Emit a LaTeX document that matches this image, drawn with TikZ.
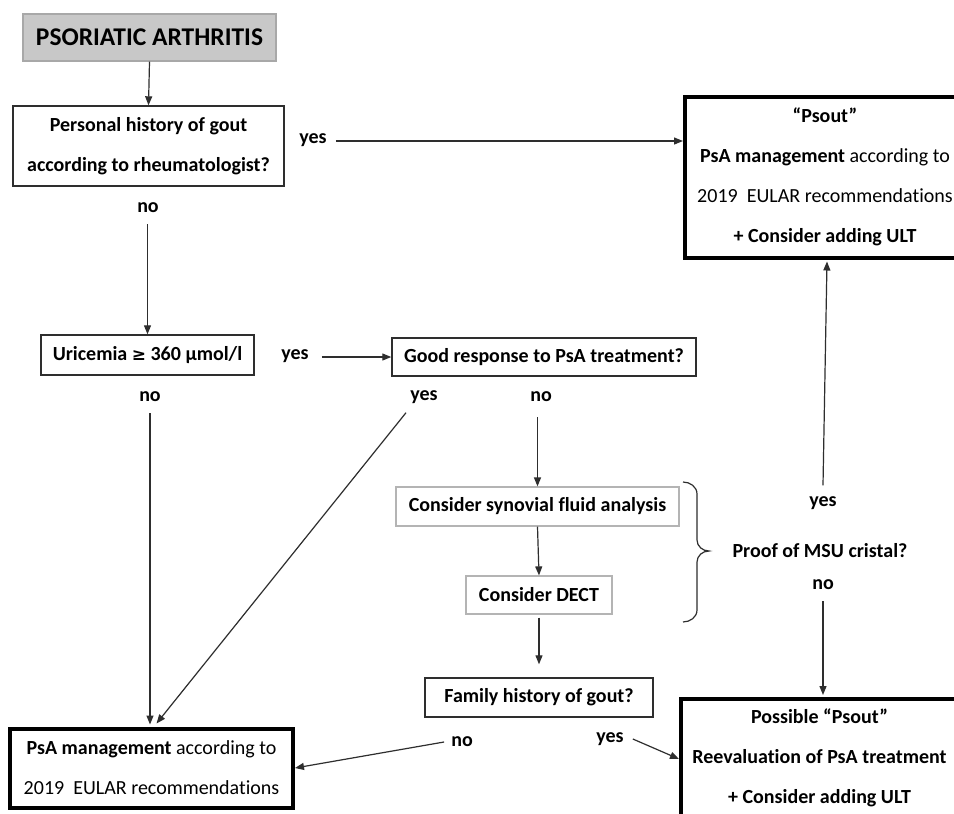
\documentclass[tikz,border=0pt]{standalone}
\usepackage{fontspec}
\setmainfont[Ligatures=NoCommon]{Carlito}
\newfontfamily\symfont{DejaVu Sans}
\usetikzlibrary{arrows.meta}
\definecolor{ln}{HTML}{2E2E2E}
\definecolor{graybox}{HTML}{C8C8C8}
\definecolor{grayedge}{HTML}{A8A8A8}
\definecolor{lightedge}{HTML}{B4B4B4}
\begin{document}
\begin{tikzpicture}[x=1pt,y=-1pt,
  box/.style={draw=ln, line width=1.4pt, fill=white, inner sep=0pt, align=center,
    font=\bfseries\fontsize{20}{40}\selectfont},
  heavybox/.style={box, line width=4pt, draw=black},
  lightbox/.style={box, line width=1.2pt, draw=lightedge},
  lbl/.style={font=\bfseries\fontsize{20}{24}\selectfont, inner sep=1pt},
  conn/.style={draw=ln, line width=1.2pt},
  arr/.style={conn, -{Triangle[length=9pt,width=7pt]}}
]
\useasboundingbox (0,0) rectangle (954,814);
\clip (0,0) rectangle (954,814);
\fill[white] (0,0) rectangle (954,814);

% boxes
\node[box, fill=graybox, draw=grayedge, line width=1.4pt, minimum width=253pt, minimum height=47pt,
  font=\bfseries\fontsize{25.5}{28}\selectfont] (pa) at (149.5,37.5) {PSORIATIC ARTHRITIS};
\node[box, minimum width=271pt, minimum height=80pt] (pers) at (148.5,146)
  {Personal history of gout\\according to rheumatologist?};
\node[heavybox, minimum width=280pt, minimum height=161pt] (psout) at (825,177)
  {“Psout”\\PsA management \mdseries according to\\\mdseries 2019~ EULAR recommendations\\+ Consider adding ULT};
\node[box, minimum width=213pt, minimum height=40pt] (uric) at (147.5,355)
  {Uricemia {\symfont\fontsize{17}{20}\selectfont ≥} 360 µmol/l};
\node[box, minimum width=304pt, minimum height=38pt] (good) at (544,357)
  {Good response to PsA treatment?};
\node[lightbox, minimum width=283pt, minimum height=39pt] (syn) at (537.5,506.5)
  {Consider synovial fluid analysis};
\node[lightbox, minimum width=146pt, minimum height=38pt] (dect) at (539,595)
  {Consider DECT};
\node[box, minimum width=228pt, minimum height=39pt] (fam) at (539,697.5)
  {Family history of gout?};
\node[heavybox, minimum width=283pt, minimum height=79pt] (psa) at (151.5,768)
  {PsA management \mdseries according to\\\mdseries 2019~ EULAR recommendations};
\node[heavybox, minimum width=277pt, minimum height=118pt] (poss) at (819.5,758)
  {Possible “Psout”\\Reevaluation of PsA treatment\\+ Consider adding ULT};

% labels
\node[lbl] (yes1) at (313,140) {yes};
\node[lbl] (no1) at (148,208) {no};
\node[lbl] (yes2) at (295,356) {yes};
\node[lbl] (no2) at (150,397) {no};
\node[lbl] (yes3) at (424,397) {yes};
\node[lbl] (no3) at (541,397) {no};
\node[lbl] (yes4) at (823,503) {yes};
\node[lbl] (proof) at (820,551) {Proof of MSU cristal?};
\node[lbl] (no4) at (823,585) {no};
\node[lbl] (no5) at (462,742) {no};
\node[lbl] (yes5) at (610,739) {yes};

% connectors
\draw[arr] (pa.south) -- (pers.north);
\draw[arr] ([xshift=8pt,yshift=-1pt]yes1.east) -- ([yshift=-1pt]yes1.east -| psout.west);
\draw[arr] ([yshift=-10pt]no1.south -| uric.north) -- (uric.north);
\draw[arr] ([xshift=12pt,yshift=-1pt]yes2.east) -- ([yshift=-1pt]yes2.east -| good.west);
\draw[arr] ([yshift=-10pt]no2.south) -- ([yshift=2pt]no2.south |- psa.north);
\draw[arr] ([xshift=-18pt,yshift=-8pt]yes3.south) -- ([xshift=5pt,yshift=3pt]psa.north);
\draw[arr] ([yshift=-14pt]no3.south -| syn.north) -- (syn.north);
\draw[arr] (syn.south) -- (dect.north);
\draw[arr, shorten >=13pt] ([yshift=-3pt]dect.south) -- (fam.north);
\draw[arr] ([xshift=-6pt]no5.west) -- (psa.east);
\draw[arr] ([xshift=8pt]yes5.east) -- ([yshift=-1pt]poss.west);
\draw[arr] ([yshift=10pt]yes4.north) -- ([xshift=2pt,yshift=-2pt]psout.south);
\draw[arr] ([yshift=-10pt]no4.south) -- ([xshift=3.5pt,yshift=2pt]poss.north);

% brace
\draw[conn] (683,482) to[out=0,in=90] (697,494) -- (697,540)
  to[out=-90,in=180] (709,551) to[out=180,in=90] (697,562) -- (697,610)
  to[out=-90,in=0] (683,622);
\end{tikzpicture}
\end{document}
